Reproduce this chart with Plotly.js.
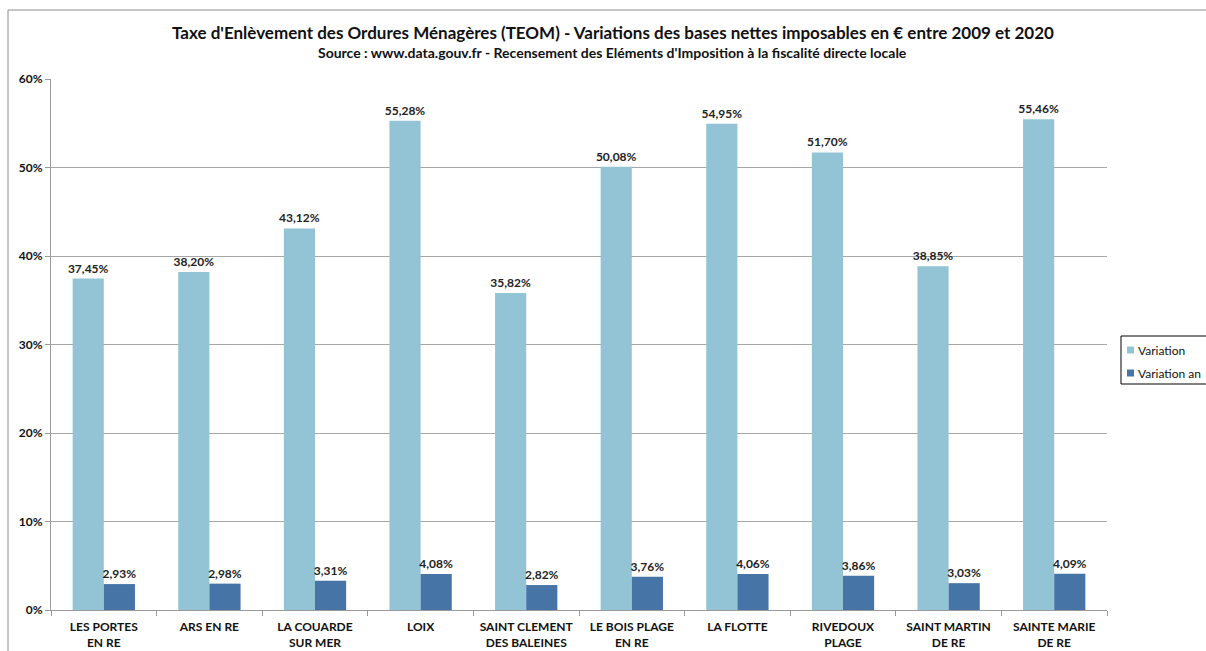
<!DOCTYPE html>
<html><head><meta charset="utf-8">
<script src="https://cdn.plot.ly/plotly-3.0.1.min.js"></script>
<style>html,body{margin:0;padding:0;background:#fff;}#chart{width:1206px;height:651px;}</style>
</head><body><div id="chart"></div>
<script>
const categories = ["LES PORTES<br>EN RE","ARS EN RE","LA COUARDE<br>SUR MER","LOIX","SAINT CLEMENT<br>DES BALEINES","LE BOIS PLAGE<br>EN RE","LA FLOTTE","RIVEDOUX<br>PLAGE","SAINT MARTIN<br>DE RE","SAINTE MARIE<br>DE RE"];
const variation = [37.45, 38.20, 43.12, 55.28, 35.82, 50.08, 54.95, 51.70, 38.85, 55.46];
const variationAnnuelle = [2.93, 2.98, 3.31, 4.08, 2.82, 3.76, 4.06, 3.86, 3.03, 4.09];
const seriesNames = ["Variation", "Variation an"];
const seriesColors = ['#93C4D6', '#4674A7'];
const yTicks = [0, 10, 20, 30, 40, 50, 60];

const FONT = "Lato, 'Liberation Sans', sans-serif";
const L = 51, R = 1107, T = 79, B = 610;
const px = x => (x - L) / (R - L);
const py = y => (B - y) / (B - T);

const fmt = v => v.toFixed(2).replace('.', ',') + '%';

const traces = [variation, variationAnnuelle].map((vals, i) => ({
  type:'bar', name:seriesNames[i], x:categories, y:vals, marker:{color:seriesColors[i]},
  text:vals.map(fmt), textposition:'outside', cliponaxis:false, constraintext:'none',
  textfont:{family:FONT, size:12, color:'#222', weight:'bold'}, hoverinfo:'none', showlegend:false
}));

// manual legend (box runs past the right edge as in the reference)
const legendShapes = [
  {type:'rect', xref:'paper', yref:'paper', x0:px(1121), x1:px(1240), y0:py(384), y1:py(336),
   line:{color:'#000', width:1}, fillcolor:'#fff', layer:'above'}
];
const legendAnn = [];
seriesNames.forEach((n, i) => {
  const yc = 350 + i * 23;
  legendShapes.push({type:'rect', xref:'paper', yref:'paper', x0:px(1127), x1:px(1134), y0:py(yc+3.5), y1:py(yc-3.5),
    line:{width:0}, fillcolor:seriesColors[i], layer:'above'});
  legendAnn.push({xref:'paper', yref:'paper', x:px(1136), y:py(yc), xanchor:'left', yanchor:'middle', showarrow:false,
    text:n, font:{family:FONT, size:12, color:'#111'}});
});

const layout = {
  width:1206, height:651,
  margin:{l:L, r:1206-R, t:T, b:651-B, pad:0},
  paper_bgcolor:'#fff', plot_bgcolor:'#fff',
  font:{family:FONT, size:12, color:'#111'},
  barmode:'group', bargap:0.41, bargroupgap:0,
  showlegend:false,
  xaxis:{type:'category', showline:true, linecolor:'#9a9a9a', linewidth:1,
    ticks:'outside', tickson:'boundaries', ticklen:5, tickcolor:'#9a9a9a', tickangle:0, ticklabelstandoff:6,
    tickfont:{family:FONT, size:12, color:'#111', weight:'bold'}, showgrid:false, automargin:false},
  yaxis:{range:[0,60], tickvals:yTicks, ticktext:yTicks.map(v=>v+'%'),
    showline:true, linecolor:'#9a9a9a', linewidth:1, ticks:'outside', ticklen:5, tickcolor:'#9a9a9a',
    showgrid:true, gridcolor:'#a6a6a6', gridwidth:1, zeroline:false,
    tickfont:{family:FONT, size:12, color:'#111', weight:'bold'}, automargin:false},
  annotations:[
    {xref:'paper', yref:'paper', x:px(613), y:py(33), xanchor:'center', yanchor:'middle', showarrow:false,
     text:"Taxe d'Enlèvement des Ordures Ménagères (TEOM) - Variations des bases nettes imposables en € entre 2009 et 2020",
     font:{family:FONT, size:17, color:'#111', weight:'bold'}},
    {xref:'paper', yref:'paper', x:px(612), y:py(53), xanchor:'center', yanchor:'middle', showarrow:false,
     text:"Source : www.data.gouv.fr - Recensement des Eléments d'Imposition à la fiscalité directe locale",
     font:{family:FONT, size:14, color:'#111', weight:'bold'}}
  ].concat(legendAnn),
  shapes:[
    {type:'path', xref:'paper', yref:'paper', layer:'above',
     path:`M ${px(8)},${py(660)} L ${px(8)},${py(10)} L ${px(1215)},${py(10)}`,
     line:{color:'#8c8c8c', width:1}}
  ].concat(legendShapes)
};

Plotly.newPlot('chart', traces, layout, {displayModeBar:false, staticPlot:true});
</script></body></html>
